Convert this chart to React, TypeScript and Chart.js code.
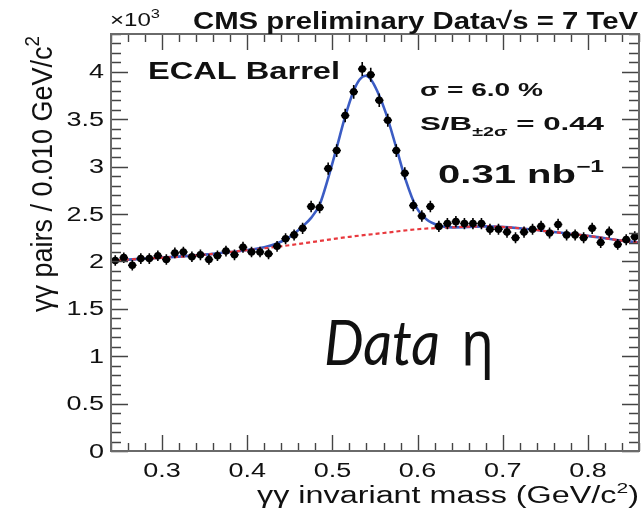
import React, { useEffect, useRef } from "react";
import { Chart, registerables } from "chart.js";

Chart.register(...registerables);

// γγ invariant mass bin centres (GeV/c²)
const massBins = [
  0.245, 0.255, 0.265, 0.275, 0.285, 0.295, 0.305, 0.315, 0.325, 0.335,
  0.345, 0.355, 0.365, 0.375, 0.385, 0.395, 0.405, 0.415, 0.425, 0.435,
  0.445, 0.455, 0.465, 0.475, 0.485, 0.495, 0.505, 0.515, 0.525, 0.535,
  0.545, 0.555, 0.565, 0.575, 0.585, 0.595, 0.605, 0.615, 0.625, 0.635,
  0.645, 0.655, 0.665, 0.675, 0.685, 0.695, 0.705, 0.715, 0.725, 0.735,
  0.745, 0.755, 0.765, 0.775, 0.785, 0.795, 0.805, 0.815, 0.825, 0.835,
  0.845, 0.855,
];

// γγ pairs per bin, in units of 10³
const pairCounts = [
  2.01, 2.04, 1.96, 2.03, 2.03, 2.06, 2.02, 2.09, 2.10, 2.05,
  2.07, 2.02, 2.06, 2.11, 2.07, 2.15, 2.10, 2.10, 2.08, 2.16,
  2.24, 2.28, 2.35, 2.58, 2.57, 2.98, 3.17, 3.54, 3.79, 4.03,
  3.97, 3.70, 3.49, 3.17, 2.93, 2.59, 2.48, 2.58, 2.37, 2.40,
  2.42, 2.40, 2.40, 2.40, 2.34, 2.34, 2.31, 2.25, 2.31, 2.34,
  2.37, 2.30, 2.39, 2.28, 2.28, 2.25, 2.35, 2.20, 2.31, 2.18,
  2.23, 2.26,
];

// signal + background fit
const fitMass = [
  0.24, 0.30, 0.36, 0.40, 0.42, 0.435, 0.45, 0.465, 0.475, 0.485,
  0.495, 0.505, 0.515, 0.525, 0.532, 0.539, 0.546, 0.553, 0.563, 0.575,
  0.586, 0.598, 0.611, 0.625, 0.64, 0.68, 0.72, 0.76, 0.80, 0.84, 0.86,
];
const fitValue = [
  2.01, 2.04, 2.08, 2.12, 2.15, 2.19, 2.26, 2.37, 2.46, 2.60,
  2.88, 3.20, 3.53, 3.80, 3.92, 3.96, 3.91, 3.79, 3.56, 3.20,
  2.86, 2.58, 2.44, 2.38, 2.36, 2.37, 2.35, 2.31, 2.27, 2.22, 2.20,
];

// background-only component
const bkgMass = [
  0.24, 0.28, 0.32, 0.36, 0.40, 0.44, 0.48, 0.52, 0.56, 0.60,
  0.64, 0.68, 0.72, 0.76, 0.80, 0.84, 0.86,
];
const bkgValue = [
  2.01, 2.03, 2.05, 2.08, 2.12, 2.16, 2.21, 2.26, 2.30, 2.34,
  2.36, 2.37, 2.35, 2.31, 2.27, 2.22, 2.20,
];

const xTickLabels = ["0.3", "0.4", "0.5", "0.6", "0.7", "0.8"];
const yTickLabels = ["0", "0.5", "1", "1.5", "2", "2.5", "3", "3.5", "4"];

const X_MIN = 0.24;
const X_MAX = 0.86;
const Y_MIN = 0;
const Y_MAX = 4.4;
const X_MINOR_STEP = 0.02;
const Y_MINOR_STEP = 0.1;

const HELV = '"Liberation Sans", Arial, sans-serif';

function stretchText(
  ctx: CanvasRenderingContext2D,
  text: string,
  x: number,
  y: number,
  font: string,
  sx: number,
  align: "left" | "center" | "right" = "left",
  baseline: CanvasTextBaseline = "alphabetic"
): number {
  ctx.save();
  ctx.font = font;
  const w = ctx.measureText(text).width * sx;
  let x0 = x;
  if (align === "center") x0 = x - w / 2;
  else if (align === "right") x0 = x - w;
  ctx.translate(x0, y);
  ctx.scale(sx, 1);
  ctx.textAlign = "left";
  ctx.textBaseline = baseline;
  ctx.fillText(text, 0, 0);
  ctx.restore();
  return w;
}

type Part = { t: string; font: string; dy: number };

function drawParts(
  ctx: CanvasRenderingContext2D,
  parts: Part[],
  x: number,
  y: number,
  width: number
) {
  ctx.save();
  let natural = 0;
  for (const p of parts) {
    ctx.font = p.font;
    natural += ctx.measureText(p.t).width;
  }
  const sx = width / natural;
  let cx = x;
  for (const p of parts) {
    cx += stretchText(ctx, p.t, cx, y + p.dy, p.font, sx);
  }
  ctx.restore();
}

const framePlugin = {
  id: "rootFrame",
  afterDatasetsDraw(chart: any) {
    const ctx: CanvasRenderingContext2D = chart.ctx;
    const xs = chart.scales.x;
    const ys = chart.scales.y;
    const area = chart.chartArea;
    // error bars
    ctx.save();
    ctx.beginPath();
    ctx.rect(area.left, area.top, area.right - area.left, area.bottom - area.top);
    ctx.clip();
    ctx.strokeStyle = "#000";
    ctx.lineWidth = 1.6;
    massBins.forEach((m, i) => {
      const v = pairCounts[i];
      const err = Math.sqrt(v * 1000) / 1000;
      const px = xs.getPixelForValue(m);
      const py = ys.getPixelForValue(v);
      ctx.beginPath();
      ctx.moveTo(px, ys.getPixelForValue(v + err) - 1);
      ctx.lineTo(px, ys.getPixelForValue(v - err) + 1);
      ctx.moveTo(xs.getPixelForValue(m - 0.005), py);
      ctx.lineTo(xs.getPixelForValue(m + 0.005), py);
      ctx.stroke();
    });
    ctx.restore();
  },
  afterDraw(chart: any) {
    const ctx: CanvasRenderingContext2D = chart.ctx;
    const xs = chart.scales.x;
    const ys = chart.scales.y;
    const a = chart.chartArea;
    ctx.save();
    // inner ticks
    ctx.strokeStyle = "#444";
    ctx.lineWidth = 1.4;
    ctx.beginPath();
    const nx = Math.round((X_MAX - X_MIN) / X_MINOR_STEP);
    for (let k = 0; k <= nx; k++) {
      const v = X_MIN + k * X_MINOR_STEP;
      const major = Math.abs(v * 10 - Math.round(v * 10)) < 1e-6;
      const len = major ? 16 : 8;
      const px = Math.round(xs.getPixelForValue(v)) + 0.5;
      ctx.moveTo(px, a.bottom);
      ctx.lineTo(px, a.bottom - len);
      ctx.moveTo(px, a.top);
      ctx.lineTo(px, a.top + len);
    }
    const ny = Math.round((Y_MAX - Y_MIN) / Y_MINOR_STEP);
    for (let k = 0; k <= ny; k++) {
      const v = Y_MIN + k * Y_MINOR_STEP;
      const major = Math.abs(v * 2 - Math.round(v * 2)) < 1e-6;
      const len = major ? 17 : 10;
      const py = Math.round(ys.getPixelForValue(v)) + 0.5;
      ctx.moveTo(a.left, py);
      ctx.lineTo(a.left + len, py);
      ctx.moveTo(a.right, py);
      ctx.lineTo(a.right - len, py);
    }
    ctx.stroke();
    // frame
    ctx.strokeStyle = "#6a6a6a";
    ctx.lineWidth = 2;
    ctx.strokeRect(a.left, a.top, a.right - a.left, a.bottom - a.top);

    ctx.fillStyle = "#111";
    // tick labels
    yTickLabels.forEach((lab) => {
      const py = ys.getPixelForValue(parseFloat(lab));
      stretchText(ctx, lab, 104, py + 1, `20px ${HELV}`, 1.35, "right", "middle");
    });
    xTickLabels.forEach((lab) => {
      const px = xs.getPixelForValue(parseFloat(lab));
      stretchText(ctx, lab, px, 461, `20px ${HELV}`, 1.35, "center", "top");
    });

    // axis titles
    drawParts(
      ctx,
      [
        { t: "γγ invariant mass (GeV/c", font: `23px ${HELV}`, dy: 0 },
        { t: "2", font: `15px ${HELV}`, dy: -10 },
        { t: ")", font: `23px ${HELV}`, dy: 0 },
      ],
      257,
      503,
      382
    );
    // y title (rotated)
    ctx.save();
    ctx.translate(52, 312);
    ctx.rotate(-Math.PI / 2);
    ctx.font = `20px ${HELV}`;
    const main = "γγ pairs / 0.010 GeV/c";
    const wMain = ctx.measureText(main).width;
    ctx.font = `14px ${HELV}`;
    const wSup = ctx.measureText("2").width;
    const sxL = 276 / (wMain + wSup);
    ctx.scale(sxL, 1.45);
    ctx.font = `20px ${HELV}`;
    ctx.textBaseline = "alphabetic";
    ctx.fillText(main, 0, 0);
    ctx.font = `14px ${HELV}`;
    ctx.fillText("2", wMain, -9);
    ctx.restore();

    // exponent
    drawParts(
      ctx,
      [
        { t: "×10", font: `19px ${HELV}`, dy: 0 },
        { t: "3", font: `13px ${HELV}`, dy: -8 },
      ],
      110,
      26,
      50
    );
    // header
    drawParts(
      ctx,
      [{ t: "CMS preliminary Data√s = 7 TeV", font: `bold 24px ${HELV}`, dy: 0 }],
      193,
      29,
      445
    );
    // ECAL Barrel
    drawParts(ctx, [{ t: "ECAL Barrel", font: `bold 24px ${HELV}`, dy: 0 }], 148, 79, 192);
    // sigma
    drawParts(ctx, [{ t: "σ = 6.0 %", font: `bold 19px ${HELV}`, dy: 0 }], 420, 96, 123);
    // S/B
    drawParts(
      ctx,
      [
        { t: "S/B", font: `bold 19px ${HELV}`, dy: 0 },
        { t: "±2σ", font: `bold 12px ${HELV}`, dy: 6 },
        { t: " = 0.44", font: `bold 19px ${HELV}`, dy: 0 },
      ],
      420,
      130,
      184
    );
    // luminosity
    drawParts(
      ctx,
      [
        { t: "0.31 nb", font: `bold 26px ${HELV}`, dy: 0 },
        { t: "−1", font: `bold 16px ${HELV}`, dy: -11 },
      ],
      438,
      183,
      166
    );
    // Data eta
    drawParts(
      ctx,
      [{ t: "Data", font: 'italic 62px Lato, "Open Sans", sans-serif', dy: 0 }],
      324,
      365,
      116
    );
    drawParts(ctx, [{ t: "η", font: '62px "Noto Sans", sans-serif', dy: 0 }], 461, 365, 33);
    ctx.restore();
  },
};

export default function App() {
  const canvasRef = useRef<HTMLCanvasElement | null>(null);

  useEffect(() => {
    if (!canvasRef.current) return;
    const chart = new Chart(canvasRef.current, {
      type: "scatter",
      data: {
        datasets: [
          {
            label: "Data",
            data: massBins.map((m, i) => ({ x: m, y: pairCounts[i] })),
            pointRadius: 3.8,
            pointBackgroundColor: "#000",
            pointBorderColor: "#000",
            pointBorderWidth: 0,
            showLine: false,
          },
          {
            label: "Background",
            data: bkgMass.map((m, i) => ({ x: m, y: bkgValue[i] })),
            showLine: true,
            pointRadius: 0,
            borderColor: "#e8383d",
            borderWidth: 2.2,
            borderDash: [4, 3],
            cubicInterpolationMode: "monotone",
            fill: false,
          },
          {
            label: "Fit",
            data: fitMass.map((m, i) => ({ x: m, y: fitValue[i] })),
            showLine: true,
            pointRadius: 0,
            borderColor: "#3b5cc4",
            borderWidth: 2.6,
            cubicInterpolationMode: "monotone",
            fill: false,
          },
        ],
      } as any,
      options: {
        animation: false,
        responsive: false,
        maintainAspectRatio: false,
        devicePixelRatio: 1,
        layout: { padding: { left: 111, top: 34, right: 3, bottom: 57 } },
        plugins: {
          legend: { display: false },
          tooltip: { enabled: false },
        },
        scales: {
          x: { type: "linear", min: X_MIN, max: X_MAX, display: false },
          y: { type: "linear", min: Y_MIN, max: Y_MAX, display: false },
        },
      },
      plugins: [framePlugin],
    });
    return () => chart.destroy();
  }, []);

  return (
    <div
      style={{
        position: "fixed",
        left: 0,
        top: 0,
        width: 643,
        height: 508,
        background: "#fff",
      }}
    >
      <canvas
        ref={canvasRef}
        width={643}
        height={508}
        style={{ width: 643, height: 508, display: "block" }}
      />
    </div>
  );
}
